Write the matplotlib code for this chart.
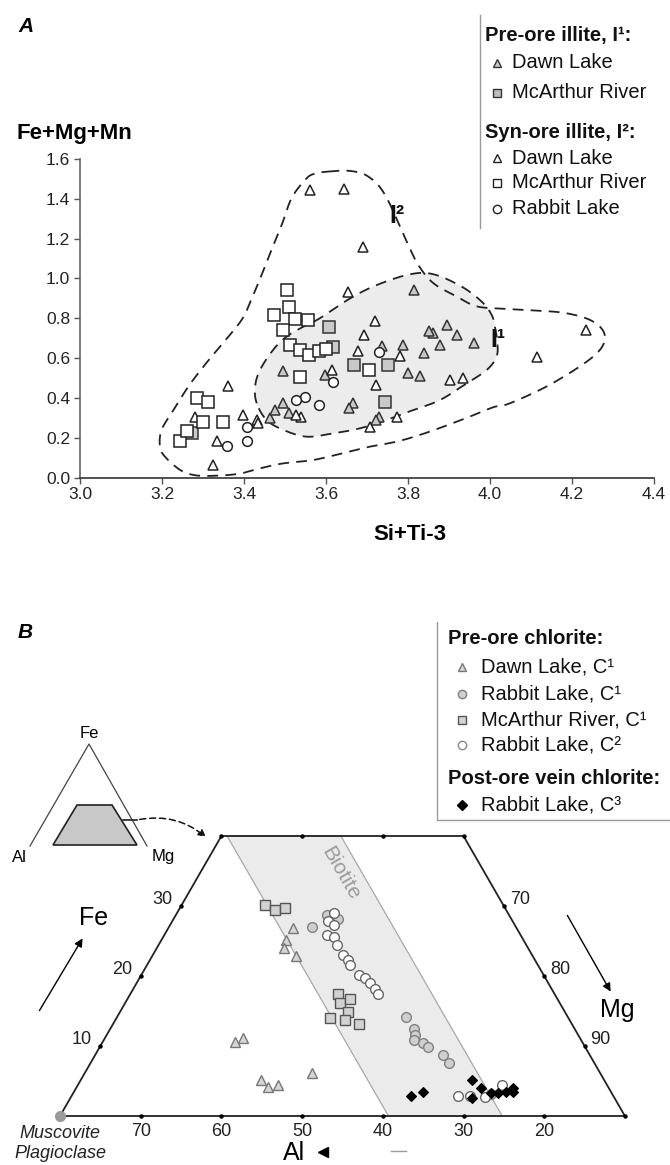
import numpy as np
import matplotlib
matplotlib.use("Agg")
import matplotlib.pyplot as plt
from matplotlib.patches import Polygon, FancyArrowPatch

plt.rcParams['font.family'] = ['Liberation Sans', 'DejaVu Sans']

# ---------------- Panel A data : x = Si+Ti-3, y = Fe+Mg+Mn ----------------
pre_dawn_x = [3.815, 3.895, 3.919, 3.860, 3.852, 3.877, 3.962, 3.736, 3.787, 3.839, 3.800,
              3.830, 3.598, 3.665, 3.657, 3.730, 3.722, 3.463, 3.476, 3.496, 3.510, 3.496]
pre_dawn_y = [0.943, 0.767, 0.718, 0.728, 0.738, 0.668, 0.676, 0.662, 0.664, 0.626, 0.526,
              0.508, 0.513, 0.372, 0.350, 0.305, 0.288, 0.297, 0.339, 0.373, 0.323, 0.534]
pre_mca_x = [3.608, 3.618, 3.669, 3.751, 3.745, 3.272]
pre_mca_y = [0.754, 0.654, 0.564, 0.564, 0.378, 0.222]
syn_dawn_x = [3.560, 3.644, 3.691, 3.654, 3.720, 3.693, 3.677, 3.780, 3.902, 3.935, 3.721,
              3.614, 3.773, 3.707, 3.540, 3.527, 3.362, 3.280, 3.333, 3.325, 3.398, 3.431,
              3.435, 4.114, 4.234]
syn_dawn_y = [1.446, 1.451, 1.156, 0.934, 0.787, 0.718, 0.634, 0.610, 0.492, 0.499, 0.467,
              0.540, 0.306, 0.256, 0.306, 0.315, 0.458, 0.306, 0.182, 0.065, 0.315, 0.290,
              0.272, 0.605, 0.742]
syn_mca_x = [3.504, 3.510, 3.474, 3.524, 3.555, 3.496, 3.512, 3.536, 3.558, 3.584, 3.600,
             3.536, 3.706, 3.286, 3.313, 3.300, 3.350, 3.243, 3.261]
syn_mca_y = [0.940, 0.859, 0.817, 0.796, 0.792, 0.742, 0.667, 0.638, 0.616, 0.637, 0.645,
             0.503, 0.538, 0.398, 0.381, 0.281, 0.278, 0.181, 0.232]
syn_rab_x = [3.730, 3.616, 3.548, 3.527, 3.584, 3.407, 3.407, 3.359]
syn_rab_y = [0.630, 0.480, 0.404, 0.388, 0.365, 0.256, 0.181, 0.156]

# envelope outlines (I1 shaded field, I2 outer field)
i1_x = [3.431, 3.427, 3.439, 3.471, 3.504, 3.545, 3.585, 3.659, 3.724, 3.805, 3.862, 3.930,
        3.980, 4.004, 4.012, 4.018, 4.016, 3.992, 3.943, 3.878, 3.813, 3.748, 3.683, 3.618,
        3.553, 3.496, 3.455]
i1_y = [0.373, 0.456, 0.540, 0.641, 0.708, 0.758, 0.800, 0.900, 0.967, 1.021, 1.021, 0.960,
        0.883, 0.817, 0.758, 0.680, 0.607, 0.540, 0.473, 0.389, 0.339, 0.289, 0.247, 0.222,
        0.205, 0.239, 0.289]
i2_x = [3.606, 3.659, 3.703, 3.744, 3.797, 3.825, 3.862, 3.919, 3.967, 4.030, 4.100, 4.184,
        4.250, 4.280, 4.256, 4.153, 4.050, 4.008, 3.951, 3.886, 3.829, 3.772, 3.707, 3.642,
        3.569, 3.496, 3.439, 3.386, 3.317, 3.276, 3.244, 3.207, 3.195, 3.199, 3.228, 3.264,
        3.301, 3.341, 3.394, 3.419, 3.443, 3.467, 3.492, 3.516, 3.549, 3.570]
i2_y = [1.537, 1.540, 1.512, 1.420, 1.185, 1.068, 0.976, 0.909, 0.860, 0.848, 0.840, 0.826,
        0.785, 0.712, 0.615, 0.474, 0.374, 0.353, 0.306, 0.255, 0.214, 0.180, 0.155, 0.122,
        0.088, 0.071, 0.046, 0.018, 0.008, 0.013, 0.038, 0.105, 0.155, 0.239, 0.339, 0.456,
        0.557, 0.657, 0.791, 0.900, 1.018, 1.143, 1.269, 1.403, 1.495, 1.525]

xticks_A = [3.0, 3.2, 3.4, 3.6, 3.8, 4.0, 4.2, 4.4]
yticks_A = [0.0, 0.2, 0.4, 0.6, 0.8, 1.0, 1.2, 1.4, 1.6]

# ---------------- Panel B data : ternary Al-Fe-Mg (Al, Fe values) ----------------
dawn_c1_al = [39.5, 40.3, 37.7, 39.3, 53.0, 51.8, 52.6, 52.2, 50.8, 45.75]
dawn_c1_fe = [25.1, 24.0, 26.8, 22.8, 10.6, 11.1, 5.1, 4.1, 4.4, 6.1]
rab_c1_al = [35.3, 32.6, 31.4, 30.0, 29.85, 30.2, 30.65, 29.8, 29.45, 28.25, 28.0, 25.0]
rab_c1_fe = [27.0, 28.7, 28.2, 14.2, 12.5, 11.6, 10.9, 10.4, 9.9, 8.7, 7.6, 3.2]
mca_c1_al = [39.5, 38.7, 37.3, 36.75, 37.25, 35.75, 36.85, 39.5, 37.85, 36.4]
mca_c1_fe = [30.1, 29.4, 29.7, 17.5, 16.1, 16.7, 14.9, 14.0, 13.7, 13.2]
rab_c2_al = [31.6, 32.85, 32.45, 34.0, 33.3, 33.5, 33.4, 33.15, 33.3, 32.95, 32.35, 32.1,
             31.9, 31.85, 29.3, 27.8, 25.95, 23.0]
rab_c2_fe = [29.0, 27.8, 27.3, 25.9, 25.6, 24.4, 23.0, 22.3, 21.6, 20.1, 19.7, 19.0,
             18.2, 17.5, 2.8, 2.8, 2.7, 4.4]
rab_c3_al = [35.0, 33.25, 26.4, 25.8, 27.7, 24.95, 24.05, 23.0, 21.9, 22.2]
rab_c3_fe = [2.9, 3.5, 5.1, 4.0, 2.6, 3.3, 3.3, 3.4, 4.0, 3.4]

biotite_al = [39.3, 25.2]          # Al bounds of the biotite band
frame_al = [80, 40, 10, 10]        # trapezoid corners (Al)
frame_fe = [0, 40, 40, 0]          # trapezoid corners (Fe)
al_tick_labels = [70, 60, 50, 40, 30, 20]
fe_tick_labels = [10, 20, 30]
mg_tick_labels = [90, 80, 70]

# ---------------- figure ----------------
W, H = 670, 1165
fig = plt.figure(figsize=(W / 100, H / 100), dpi=100)


def smooth_closed(xs, ys, n=24):
    P = np.column_stack([xs, ys])
    N = len(P)
    t = np.linspace(0, 1, n, endpoint=False)[:, None]
    segs = []
    for i in range(N):
        p0, p1, p2, p3 = P[i - 1], P[i], P[(i + 1) % N], P[(i + 2) % N]
        segs.append(0.5 * (2 * p1 + (-p0 + p2) * t + (2 * p0 - 5 * p1 + 4 * p2 - p3) * t ** 2
                           + (-p0 + 3 * p1 - 3 * p2 + p3) * t ** 3))
    C = np.vstack(segs + [segs[0][:1]])
    return C[:, 0], C[:, 1]


# ---- Panel A axes ----
axA = fig.add_axes([80 / W, 1 - 477.5 / H, 574 / W, 318.5 / H])
axA.set_xlim(3.0, 4.4)
axA.set_ylim(0, 1.6)
for s in ['top', 'right']:
    axA.spines[s].set_visible(False)
axA.spines['left'].set_color('#666666')
axA.spines['bottom'].set_color('#333333')
for s in ['left', 'bottom']:
    axA.spines[s].set_linewidth(1.2)
axA.set_xticks(xticks_A)
axA.set_yticks(yticks_A)
axA.set_xticklabels([f"{v:.1f}" for v in xticks_A])
axA.set_yticklabels([f"{v:.1f}" for v in yticks_A])
axA.tick_params(direction='out', length=4, width=1, color='#555555', labelsize=12.5, pad=3,
                labelcolor='#222222')

sx, sy = smooth_closed(i1_x, i1_y)
axA.fill(sx, sy, color='#ececec', zorder=1, lw=0)
axA.plot(sx, sy, color='#222222', lw=1.3, ls=(0, (6, 4)), zorder=2)
ox, oy = smooth_closed(i2_x, i2_y)
axA.plot(ox, oy, color='#222222', lw=1.3, ls=(0, (6, 4)), zorder=2, clip_on=False)

mk = dict(ls='none', mew=1.1, zorder=4, clip_on=False)
axA.plot(pre_dawn_x, pre_dawn_y, marker='^', ms=7.5, mfc='#c9c9c9', mec='#333333', **mk)
axA.plot(syn_dawn_x, syn_dawn_y, marker='^', ms=7.5, mfc='white', mec='#222222', **mk)
axA.plot(pre_mca_x, pre_mca_y, marker='s', ms=8, mfc='#c9c9c9', mec='#333333', **mk)
axA.plot(syn_mca_x, syn_mca_y, marker='s', ms=8, mfc='white', mec='#222222', **mk)
axA.plot(syn_rab_x, syn_rab_y, marker='o', ms=7, mfc='white', mec='#222222', **mk)

# ---- Panel B axes (ternary coordinates: x = 100 - Al - Fe/2, y = Fe) ----
axB = fig.add_axes([0, 0, 1, (H - 590) / H])
axB.set_xlim(20 + (0 - 60) / 8.07, 20 + (W - 60) / 8.07)
axB.set_ylim((1116 - H) / 7.0, (1116 - 590) / 7.0)
axB.axis('off')


def T(al, fe):
    al = np.asarray(al, float)
    fe = np.asarray(fe, float)
    return 100 - al - fe / 2.0, fe


# biotite band
b0, b1 = biotite_al
bx, by = T([b0, b0, b1, b1], [0, 40, 40, 0])
axB.add_patch(Polygon(np.column_stack([bx, by]), closed=True, facecolor='#ebebeb',
                      edgecolor='#a8a8a8', lw=0.9, zorder=1))
cx, cy = T([27.9], [34.6])
axB.text(cx[0], cy[0], 'Biotite', rotation=-60, fontsize=15, color='#9a9a9a',
         ha='center', va='center', zorder=2, rotation_mode='anchor')

# frame
fx_, fy_ = T(frame_al + frame_al[:1], frame_fe + frame_fe[:1])
axB.plot(fx_, fy_, color='#222222', lw=1.3, zorder=3)
axB.plot(*T(frame_al, frame_fe), 'o', ms=2.2, color='k', zorder=3)
# ticks and labels
for v in al_tick_labels:
    axB.plot(*T([v], [0]), 'o', ms=2.2, color='k', zorder=3)
    axB.annotate(str(v), T(v, 0), xytext=(0, -15), textcoords='offset pixels',
                 ha='center', va='center', fontsize=13, color='#222222')
for v in [30, 20]:
    axB.plot(*T([v], [40]), 'o', ms=2.2, color='k', zorder=3)
for v in fe_tick_labels:
    axB.plot(*T([80 - v], [v]), 'o', ms=2.2, color='k', zorder=3)
    axB.annotate(str(v), T(80 - v, v), xytext=(-19, 6), textcoords='offset pixels',
                 ha='center', va='center', fontsize=13, color='#222222')
for v, fe in zip(mg_tick_labels, fe_tick_labels):
    axB.plot(*T([10], [fe]), 'o', ms=2.2, color='k', zorder=3)
    axB.annotate(str(v), T(10, fe), xytext=(16, 6), textcoords='offset pixels',
                 ha='center', va='center', fontsize=13, color='#222222')

mkB = dict(ls='none', zorder=5, clip_on=False)
axB.plot(*T(dawn_c1_al, dawn_c1_fe), marker='^', ms=6.5, mfc='#d6d6d6', mec='#777777', mew=1.0, **mkB)
axB.plot(*T(mca_c1_al, mca_c1_fe), marker='s', ms=7, mfc='#d2d2d2', mec='#555555', mew=1.0, **mkB)
axB.plot(*T(rab_c1_al, rab_c1_fe), marker='o', ms=7, mfc='#cfcfcf', mec='#808080', mew=1.0, **mkB)
axB.plot(*T(rab_c2_al, rab_c2_fe), marker='o', ms=7, mfc='white', mec='#666666', mew=1.0, **mkB)
axB.plot(*T(rab_c3_al, rab_c3_fe), marker='D', ms=5, mfc='black', mec='black', mew=0.8, **mkB)
axB.plot(*T([80], [0]), marker='o', ms=7, mfc='#9a9a9a', mec='#9a9a9a', **mkB)

# ---- overlay in pixel coordinates for labels / legends ----
ov = fig.add_axes([0, 0, 1, 1], zorder=10)
ov.set_xlim(0, W)
ov.set_ylim(H, 0)
ov.axis('off')

ov.text(18, 27, 'A', fontsize=15, fontweight='bold', fontstyle='italic', va='center')
ov.text(17, 133, 'Fe+Mg+Mn', fontsize=16, fontweight='bold', va='center')
ov.text(410, 535, 'Si+Ti-3', fontsize=16, fontweight='bold', va='center', ha='center')
ov.text(389, 216, 'I²', fontsize=18, fontweight='bold', va='center', color='#111111')
ov.text(490, 340, 'I¹', fontsize=18, fontweight='bold', va='center', color='#111111')

# legend A
ov.plot([480, 480], [15, 228], color='#9a9a9a', lw=1)
lgA = dict(fontsize=14.5, va='center', color='#111111')
ov.text(485, 35, 'Pre-ore illite, I¹:', fontweight='bold', **lgA)
ov.plot(497, 63, marker='^', ms=6, mfc='#c9c9c9', mec='#333333', mew=1)
ov.text(512, 63, 'Dawn Lake', **lgA)
ov.plot(497, 93, marker='s', ms=6, mfc='#bdbdbd', mec='#333333', mew=1)
ov.text(512, 93, 'McArthur River', **lgA)
ov.text(485, 133, 'Syn-ore illite, I²:', fontweight='bold', **lgA)
ov.plot(497, 158, marker='^', ms=6, mfc='white', mec='#222222', mew=1)
ov.text(512, 158, 'Dawn Lake', **lgA)
ov.plot(497, 183, marker='s', ms=6, mfc='white', mec='#222222', mew=1)
ov.text(512, 183, 'McArthur River', **lgA)
ov.plot(497, 209, marker='o', ms=6, mfc='white', mec='#222222', mew=1)
ov.text(512, 209, 'Rabbit Lake', **lgA)

# panel B labels
ov.text(18, 632, 'B', fontsize=15, fontweight='bold', fontstyle='italic', va='center')
ov.plot([437, 437, 670], [622, 820, 820], color='#9a9a9a', lw=1)
lgB = dict(fontsize=14.5, va='center', color='#111111')
ov.text(448, 638, 'Pre-ore chlorite:', fontweight='bold', **lgB)
ov.plot(462, 667, marker='^', ms=6, mfc='#d6d6d6', mec='#777777', mew=1)
ov.text(481, 667, 'Dawn Lake, C¹', **lgB)
ov.plot(462, 694, marker='o', ms=6, mfc='#cfcfcf', mec='#808080', mew=1)
ov.text(481, 694, 'Rabbit Lake, C¹', **lgB)
ov.plot(462, 720, marker='s', ms=6, mfc='#d2d2d2', mec='#555555', mew=1)
ov.text(481, 720, 'McArthur River, C¹', **lgB)
ov.plot(462, 745, marker='o', ms=6, mfc='white', mec='#888888', mew=1)
ov.text(481, 745, 'Rabbit Lake, C²', **lgB)
ov.text(448, 778, 'Post-ore vein chlorite:', fontweight='bold', **lgB)
ov.plot(462, 805, marker='D', ms=5, mfc='black', mec='black')
ov.text(481, 805, 'Rabbit Lake, C³', **lgB)

# inset triangle
ov.plot([30, 89, 147], [846, 744, 846], color='#444444', lw=0.9)
ov.add_patch(Polygon([[77, 805], [112, 805], [137, 845], [53, 845]], closed=True,
                     facecolor='#c8c8c8', edgecolor='#222222', lw=1.2))
ov.text(89, 733, 'Fe', fontsize=12, ha='center', va='center')
ov.text(19, 857, 'Al', fontsize=12, ha='center', va='center')
ov.text(163, 857, 'Mg', fontsize=12, ha='center', va='center')
ov.plot([123, 137], [820, 820], color='#222222', lw=1.2)
ov.add_patch(FancyArrowPatch((137, 820), (208, 839), connectionstyle='arc3,rad=-0.25',
                             arrowstyle='-|>', mutation_scale=11, lw=1.1, ls=(0, (4, 2.5)),
                             color='#111111'))

# axis names and arrows
ov.text(94, 918, 'Fe', fontsize=18, ha='center', va='center')
ov.text(617, 1010, 'Mg', fontsize=18, ha='center', va='center')
ov.text(294, 1153, 'Al', fontsize=18, ha='center', va='center')
ov.plot(323, 1152, marker='<', ms=7, color='k')
ov.plot([391, 406], [1151, 1151], color='#9a9a9a', lw=1)
ov.annotate('', xy=(84, 936), xytext=(38, 1013),
            arrowprops=dict(arrowstyle='-|>', color='k', lw=1, mutation_scale=12))
ov.annotate('', xy=(612, 994), xytext=(566, 913),
            arrowprops=dict(arrowstyle='-|>', color='k', lw=1, mutation_scale=12))
ov.text(60, 1133, 'Muscovite', fontsize=13, fontstyle='italic', ha='center', va='center',
        color='#222222')
ov.text(60, 1153, 'Plagioclase', fontsize=13, fontstyle='italic', ha='center', va='center',
        color='#222222')

fig.savefig('out.png', dpi=100)
